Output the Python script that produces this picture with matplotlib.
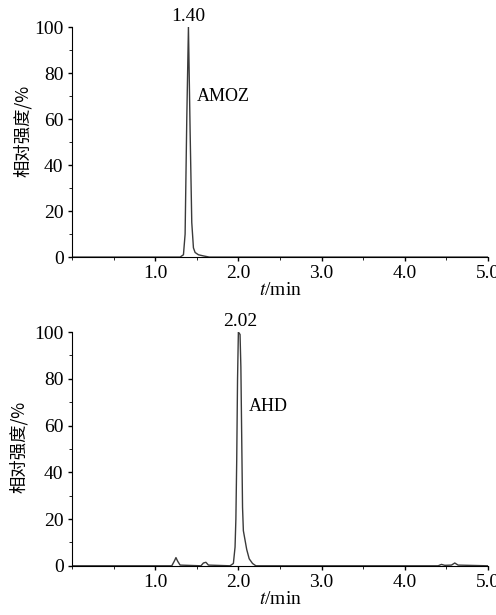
import numpy as np
import matplotlib.pyplot as plt
from matplotlib.ticker import MultipleLocator

plt.rcParams['font.family'] = ['Liberation Serif', 'DejaVu Serif']
plt.rcParams['mathtext.fontset'] = 'stix'

# AMOZ trace (time in min, relative intensity in %)
t_amoz = [0.0, 1.30, 1.34, 1.36, 1.38, 1.40, 1.42, 1.44, 1.46, 1.48, 1.52, 1.58, 1.65, 5.0]
i_amoz = [0.0, 0.0, 1.0, 10.0, 60.0, 100.0, 55.0, 15.0, 4.0, 2.0, 1.0, 0.5, 0.0, 0.0]

# AHD trace
t_ahd = [0.0, 1.20, 1.23, 1.25, 1.27, 1.30, 1.55, 1.58, 1.61, 1.64, 1.90, 1.94, 1.96, 1.97, 1.98, 1.99,
         2.00, 2.02, 2.03, 2.04, 2.05, 2.06, 2.08, 2.10, 2.13, 2.17, 2.21, 4.40, 4.44, 4.48, 4.56, 4.60, 4.64, 5.0]
i_ahd = [0.0, 0.0, 2.0, 3.5, 2.0, 0.3, 0.0, 1.2, 1.5, 0.3, 0.0, 1.0, 8.0, 20.0, 45.0, 80.0,
         100.0, 99.0, 85.0, 55.0, 25.0, 15.0, 11.0, 7.0, 3.0, 1.0, 0.0, 0.0, 0.6, 0.2, 0.3, 1.2, 0.3, 0.0]

peaks = [(1.40, "1.40", "AMOZ"), (2.02, "2.02", "AHD")]
xticks = [1.0, 2.0, 3.0, 4.0, 5.0]
yticks = [0, 20, 40, 60, 80, 100]

fig = plt.figure(figsize=(4.96, 6.15), dpi=100)
ax1 = fig.add_axes([0.145, 0.582, 0.839, 0.374])
ax2 = fig.add_axes([0.145, 0.080, 0.839, 0.380])

for ax, t, y, (tp, lab, name) in [(ax1, t_amoz, i_amoz, peaks[0]), (ax2, t_ahd, i_ahd, peaks[1])]:
    ax.plot(t, y, color='#3a3a3a', lw=1.0)
    ax.set_xlim(0, 5.0)
    ax.set_ylim(0, 100)
    ax.spines['top'].set_visible(False)
    ax.spines['right'].set_visible(False)
    ax.set_xticks(xticks)
    ax.set_xticklabels(["%.1f" % v for v in xticks])
    ax.set_yticks(yticks)
    ax.xaxis.set_minor_locator(MultipleLocator(0.5))
    ax.yaxis.set_minor_locator(MultipleLocator(10))
    ax.tick_params(labelsize=14, length=3, width=1, pad=3)
    ax.tick_params(which='minor', length=2)
    ax.set_xlabel(r"$t$/min", fontsize=14, labelpad=0)
    ax.set_ylabel("相对强度/%", fontsize=12.5, family=['Noto Sans CJK SC', 'DejaVu Sans'])
    ax.text(tp, 101, lab, ha='center', va='bottom', fontsize=14)

ax1.yaxis.set_label_coords(-0.095, 0.55)
ax2.yaxis.set_label_coords(-0.105, 0.51)
ax1.text(1.5, 70, "AMOZ", fontsize=13, ha='left', va='center')
ax2.text(2.12, 68, "AHD", fontsize=13, ha='left', va='center')

fig.savefig("out.png", dpi=100)
